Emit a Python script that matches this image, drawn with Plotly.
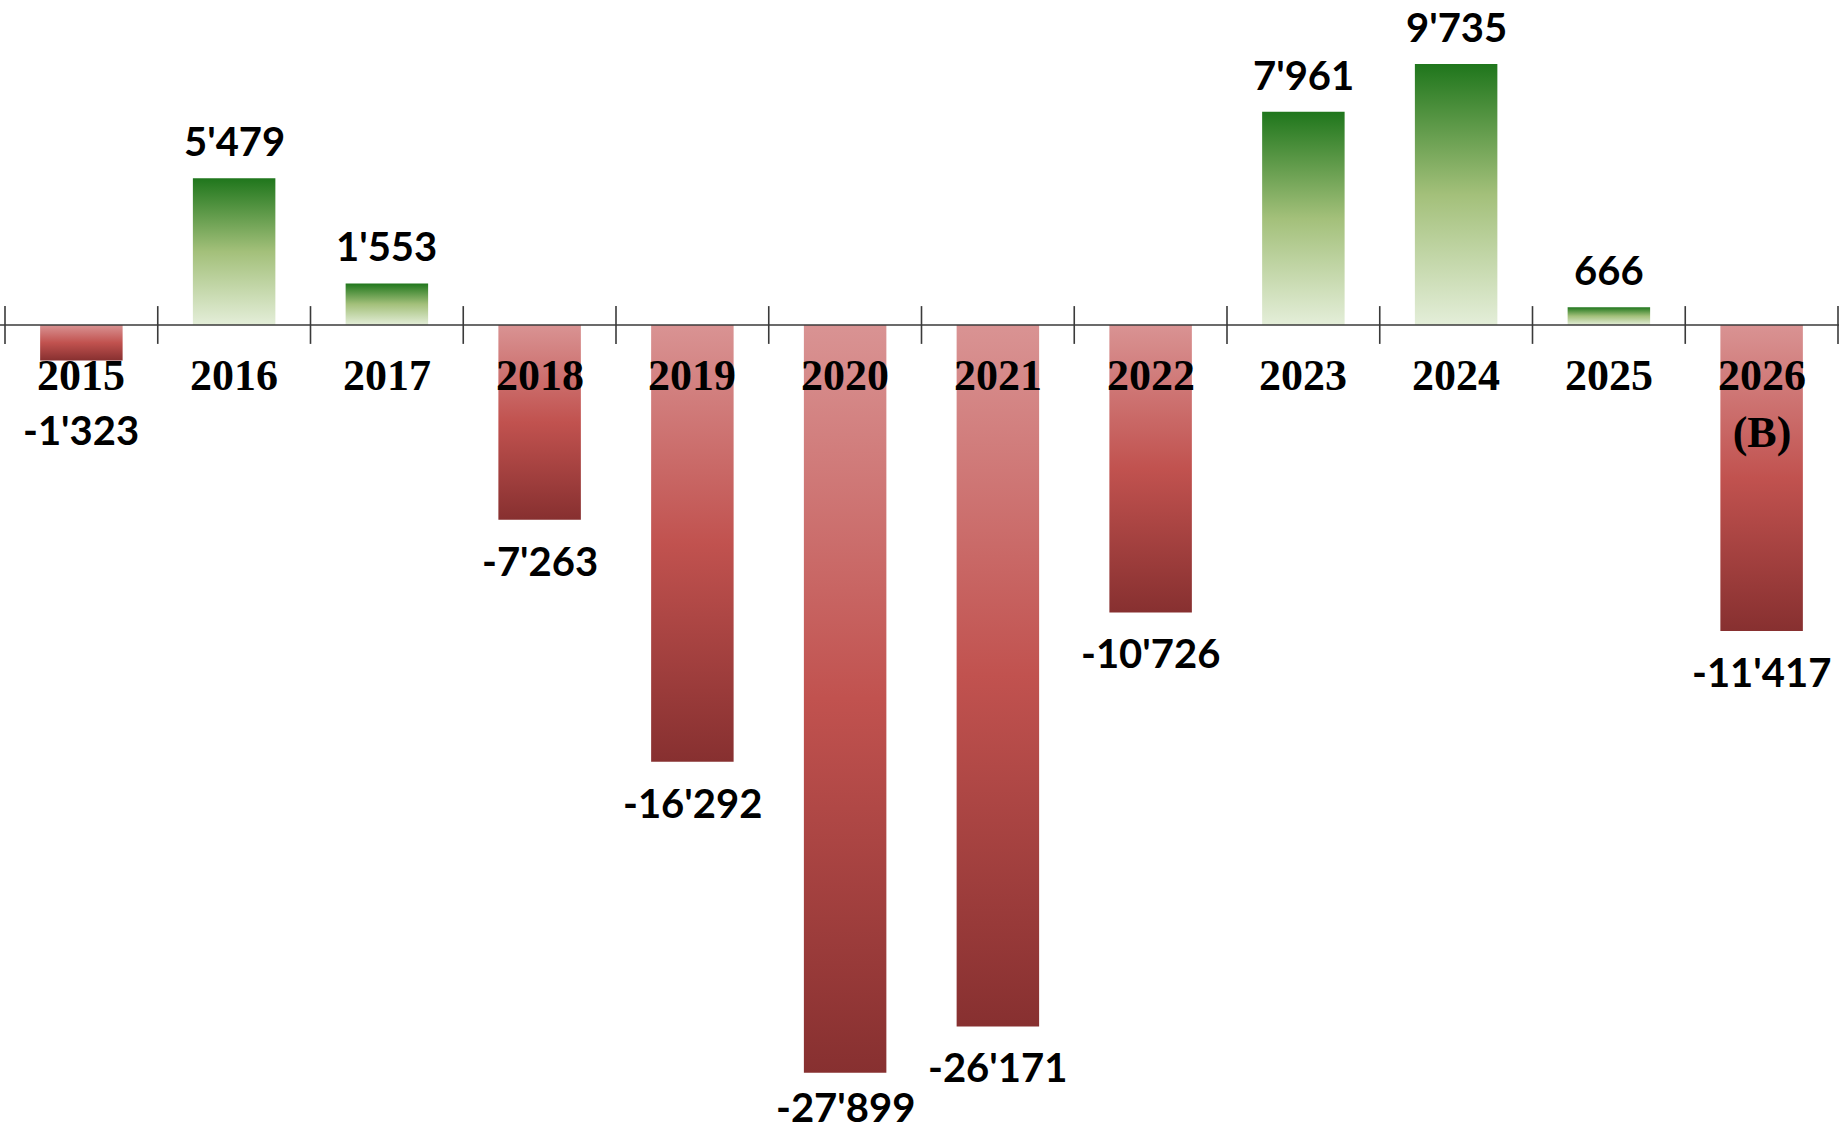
import plotly.graph_objects as go

# ---- data ----
years = ["2015", "2016", "2017", "2018", "2019", "2020", "2021", "2022", "2023", "2024", "2025", "2026<br>(B)"]
values = [-1323, 5479, 1553, -7263, -16292, -27899, -26171, -10726, 7961, 9735, 666, -11417]
value_labels = ["-1'323", "5'479", "1'553", "-7'263", "-16'292", "-27'899", "-26'171", "-10'726",
                "7'961", "9'735", "666", "-11'417"]

# ---- styling ----
W, H = 1839, 1135
AXIS_PX = 325          # pixel row of zero line
SCALE = 0.0268         # px per unit
CAT_PX = 152.75        # px per category
LEFT_PX = 5            # pixel of first boundary
BAR_W = 0.54
LABEL_SIZE = 40

green_scale = [[0, "#e4eed9"], [0.5, "#a3c07a"], [1, "#1f761c"]]
red_scale = [[0, "#873030"], [0.5, "#c1524f"], [1, "#d99393"]]

ymax = AXIS_PX / SCALE
ymin = -(H - AXIS_PX) / SCALE
xmin = -0.5 - LEFT_PX / CAT_PX
xmax = -0.5 + (W - LEFT_PX) / CAT_PX

fig = go.Figure()

for i, v in enumerate(values):
    x0, x1 = i - BAR_W / 2, i + BAR_W / 2
    fig.add_trace(go.Scatter(
        x=[x0, x1, x1, x0, x0], y=[0, 0, v, v, 0],
        mode="lines", line=dict(width=0), fill="toself",
        fillgradient=dict(type="vertical", colorscale=green_scale if v >= 0 else red_scale),
        hoverinfo="skip", showlegend=False,
    ))

# axis line
fig.add_shape(type="line", xref="paper", yref="y", x0=0, x1=1, y0=0, y1=0,
              line=dict(color="#3a3a3a", width=1.6), layer="above")

# tick marks at category boundaries
fig.add_trace(go.Scatter(
    x=[i - 0.5 for i in range(len(values) + 1)], y=[0] * (len(values) + 1),
    mode="markers", marker=dict(symbol="line-ns", size=27, line=dict(color="#3a3a3a", width=1.6)),
    cliponaxis=False, hoverinfo="skip", showlegend=False,
))

# category labels
for i, lab in enumerate(years):
    fig.add_annotation(x=i, y=0, text=lab, showarrow=False, yanchor="top", yshift=-24,
                       font=dict(family="Liberation Serif", size=44, color="black", weight="bold"))

# value labels
max_center = H - 0.7 * LABEL_SIZE   # keep label box inside the picture
for i, (v, lab) in enumerate(zip(values, value_labels)):
    if v >= 0:
        y, ys = v, 37
    else:
        depth = abs(v) * SCALE
        if depth + 42 < 105:
            y, ys = 0, -105
        else:
            center = AXIS_PX + depth + 41
            ys = -41 + max(0, center - max_center)
            y = v
    fig.add_annotation(x=i, y=y, text=lab, showarrow=False, yanchor="middle", yshift=ys,
                       font=dict(family="Lato", size=LABEL_SIZE, color="black", weight="bold"))

fig.update_layout(
    width=W, height=H, margin=dict(l=0, r=0, t=0, b=0),
    paper_bgcolor="white", plot_bgcolor="white",
    xaxis=dict(range=[xmin, xmax], visible=False, fixedrange=True),
    yaxis=dict(range=[ymin, ymax], visible=False, fixedrange=True),
)

fig.write_html("out.html", config={"displayModeBar": False},
               post_script="document.body.style.margin='0';document.body.style.overflow='hidden';")
